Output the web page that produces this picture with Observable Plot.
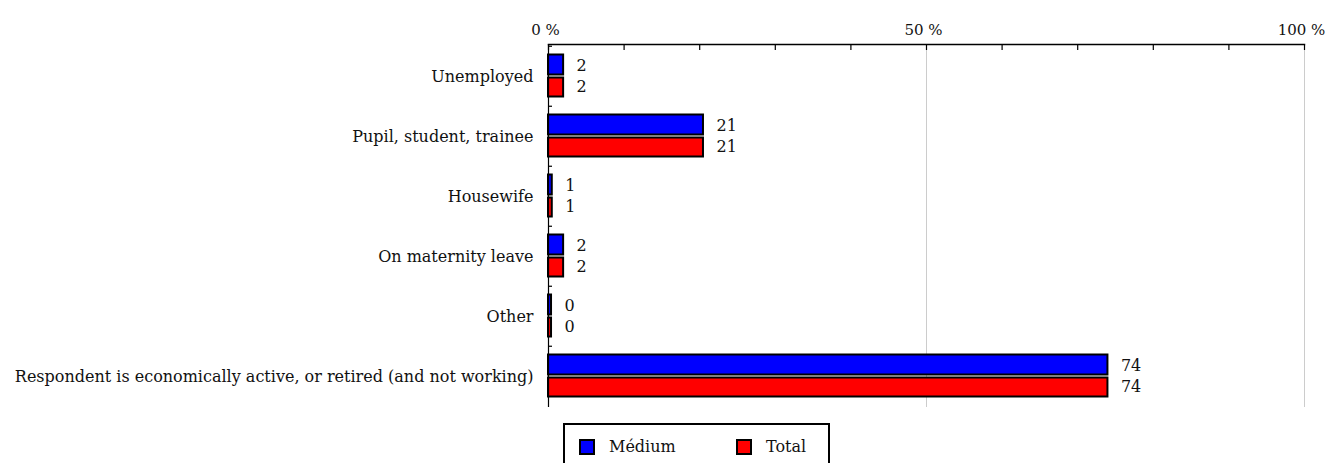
<!DOCTYPE html>
<html>
<head>
<meta charset="utf-8">
<script src="https://cdn.jsdelivr.net/npm/d3@7"></script>
<script src="https://cdn.jsdelivr.net/npm/@observablehq/plot@0.6"></script>
<style>
  html, body { margin: 0; padding: 0; background: #fff; overflow: hidden; }
  #wrap { position: relative; width: 1327px; height: 463px; font-family: "DejaVu Serif", serif; }
  #legend { position: absolute; left: 563px; top: 423px; width: 267px; height: 60px; border: 2px solid #000; box-sizing: border-box; background: #fff; }
  .item { position: absolute; top: 12px; display: flex; align-items: center; font-size: 16px; color: #111; }
  .sw { width: 12px; height: 12px; border: 2px solid #000; margin-right: 14px; }
</style>
</head>
<body>
<div id="wrap"><div id="chart"></div><div id="legend"></div></div>
<script>
const categories = [
  "Unemployed",
  "Pupil, student, trainee",
  "Housewife",
  "On maternity leave",
  "Other",
  "Respondent is economically active, or retired (and not working)"
];
const seriesNames = ["Médium", "Total"];
const seriesColors = ["#0000ff", "#ff0000"];
const medium = [2, 20.5, 0.5, 2, 0.4, 74];
const total = [2, 20.5, 0.5, 2, 0.4, 74];
const xTicks = [0, 10, 20, 30, 40, 50, 60, 70, 80, 90, 100];
const xLabelTicks = [0, 50, 100];

const rowsM = categories.map((c, i) => ({category: c, series: seriesNames[0], value: medium[i]}));
const rowsT = categories.map((c, i) => ({category: c, series: seriesNames[1], value: total[i]}));

const font = "DejaVu Serif, serif";
const W = 1327, H = 415;
const step = (407 - 44) / categories.length;

const chart = Plot.plot({
  width: W,
  height: H,
  marginLeft: 548,
  marginRight: 23,
  marginTop: 44,
  marginBottom: H - 407,
  style: {fontFamily: font, fontSize: "16px", color: "#111", background: "#fff"},
  x: {domain: [0, 100], label: null},
  y: {domain: categories, padding: 0, label: null},
  marks: [
    Plot.gridX([50, 100], {stroke: "#cccccc", strokeOpacity: 1, strokeWidth: 1}),
    Plot.barX(rowsM, {x: "value", y: "category", fill: seriesColors[0], stroke: "#000", strokeWidth: 2, insetTop: 8.5, insetBottom: step - 29}),
    Plot.barX(rowsT, {x: "value", y: "category", fill: seriesColors[1], stroke: "#000", strokeWidth: 2, insetTop: 31.5, insetBottom: 9.5}),
    Plot.text(rowsM, {x: "value", y: "category", text: d => String(Math.round(d.value)), textAnchor: "start", dx: 13, dy: -11, fontSize: 16, fill: "#111"}),
    Plot.text(rowsT, {x: "value", y: "category", text: d => String(Math.round(d.value)), textAnchor: "start", dx: 13, dy: 10.5, fontSize: 16, fill: "#111"}),
    Plot.ruleX([0], {stroke: "#000", strokeWidth: 1.2}),
    Plot.frame({anchor: "top", stroke: "#000", strokeWidth: 1.5}),
    Plot.axisX({anchor: "top", ticks: xTicks, tickSize: 5, dy: 5, text: null, stroke: "#000", strokeWidth: 1.2, label: null}),
    Plot.axisX({anchor: "top", ticks: xLabelTicks, tickSize: 0, tickPadding: 10, dx: -3, tickFormat: d => d + " %", fontSize: 15, fill: "#111", label: null}),
    Plot.axisY({anchor: "left", tickSize: 0, tickPadding: 15, fontSize: 16, fill: "#111", label: null}),
    Plot.axisY({anchor: "left", tickSize: -4, text: null, dy: -step / 2, stroke: "#000", strokeWidth: 1.2, label: null})
  ]
});
document.getElementById("chart").appendChild(chart);

const legend = document.getElementById("legend");
const offsets = [14, 171];
seriesNames.forEach((name, i) => {
  const item = document.createElement("div");
  item.className = "item";
  item.style.left = offsets[i] + "px";
  const sw = document.createElement("div");
  sw.className = "sw";
  sw.style.background = seriesColors[i];
  const t = document.createElement("span");
  t.textContent = name;
  item.appendChild(sw);
  item.appendChild(t);
  legend.appendChild(item);
});
</script>
</body>
</html>
